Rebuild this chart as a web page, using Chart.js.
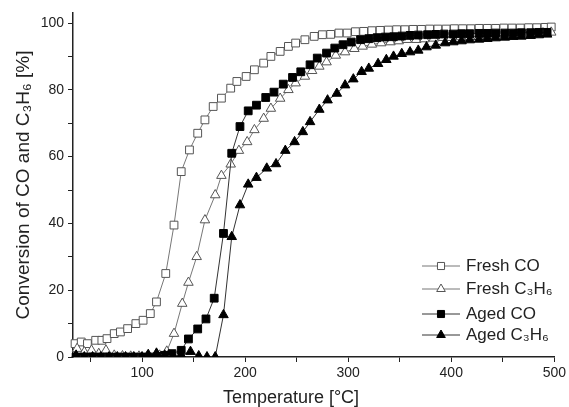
<!DOCTYPE html>
<html>
<head>
<meta charset="utf-8">
<script src="https://cdn.jsdelivr.net/npm/chart.js@4"></script>
<style>body{margin:0;background:#fff}</style>
</head>
<body>
<canvas id="chart" width="569" height="407"></canvas>
<script>
// temperatures [°C] and conversions [%]
const freshCoT = [35, 41, 47, 55, 61, 66, 73, 79, 86, 94, 101, 108, 114, 123, 131, 138, 146, 154, 161, 169, 177, 186, 192, 201, 209, 218, 225, 234, 242, 249, 258, 267, 275, 283, 291, 299, 307, 315, 323, 331, 339, 347, 355, 363, 371, 379, 387, 395, 403, 411, 419, 427, 435, 443, 451, 459, 467, 475, 483, 491, 497];
const freshCoV = [4, 4.5, 4, 5, 5, 5.5, 7, 7.5, 8.5, 10, 11, 13, 16.5, 25, 39.5, 55.5, 62, 67, 71, 75, 77.5, 80.5, 82.5, 84, 86, 88, 90, 91.5, 93, 94, 95, 96, 96.5, 96.6, 97, 97, 97.4, 97.5, 97.7, 97.8, 97.9, 98, 98, 98.1, 98.1, 98.2, 98.2, 98.2, 98.3, 98.3, 98.3, 98.4, 98.4, 98.4, 98.5, 98.5, 98.5, 98.6, 98.6, 98.7, 98.8];

const freshC3h6T = [37, 44, 51, 58, 65, 73, 81, 89, 97, 105, 113, 117, 124, 131, 139, 145, 153, 161, 171, 177, 186, 194, 202, 209, 218, 225, 234, 242, 249, 258, 265, 272, 279, 288, 297, 306, 314, 323, 332, 341, 349, 357, 366, 374, 383, 392, 400, 409, 418, 427, 436, 444, 453, 462, 471, 480, 489, 497];
const freshC3h6V = [2.5, 1.5, 2, 1, 2, 0.5, 0.3, 0.2, 0.2, 0.2, 0.3, 0.5, 1.7, 7, 16, 22.3, 30, 41, 48.5, 54.3, 57.7, 61.8, 64.4, 68, 71.4, 74.4, 77.4, 80, 82, 84, 85.7, 87, 88.3, 90.3, 91.3, 92.3, 93, 93.6, 94, 94.3, 94.6, 95, 95, 95.2, 95.4, 95.6, 95.6, 95.8, 95.9, 96, 96.1, 96.2, 96.3, 96.5, 96.6, 96.8, 97, 97.2];

const agedCoT = [36, 44, 52, 60, 68, 76, 84, 92, 100, 108, 116, 122, 129, 138, 145, 154, 162, 170, 179, 187, 195, 203, 211, 220, 228, 237, 246, 254, 263, 270, 279, 287, 295, 303, 312, 320, 328, 336, 344, 352, 360, 368, 377, 385, 393, 402, 410, 418, 427, 435, 443, 452, 460, 468, 477, 485, 493];
const agedCoV = [0, 0, 0, 0, 0, 0, 0, 0, 0, 0, 0.2, 0.5, 1, 2, 5.4, 8.4, 11.4, 17.6, 37, 61, 69, 73.7, 75.4, 77.7, 79.3, 81.7, 83.7, 85.4, 87.5, 89.5, 91, 92.5, 93.5, 94.3, 95, 95.3, 95.6, 95.8, 95.9, 96.1, 96.3, 96.4, 96.5, 96.6, 96.7, 96.7, 96.8, 96.8, 96.9, 96.9, 97, 97, 97, 97.1, 97.1, 97.2, 97.2];

const agedC3h6T = [36, 44, 52, 60, 68, 76, 84, 92, 100, 106, 114, 122, 130, 138, 147, 155, 163, 171, 179, 187, 195, 203, 211, 221, 230, 239, 248, 256, 263, 272, 280, 289, 297, 305, 313, 320, 329, 337, 344, 352, 360, 368, 376, 385, 394, 402, 410, 418, 427, 435, 443, 452, 460, 468, 477, 485, 493];
const agedC3h6V = [0.5, 0, 0, 0, 0, 0, 0, 0, 0, 0.7, 1.1, 0.5, 0.3, 0.5, 1.6, 0.3, 0, 0, 12.6, 36, 45.5, 51.7, 53.7, 56.5, 57.8, 61.8, 64.4, 67.4, 70.4, 74.1, 76.9, 78.9, 81.4, 83.2, 85.4, 86.4, 87.8, 89, 90, 90.8, 91.3, 91.8, 92.8, 93.3, 94, 94.3, 94.6, 94.9, 95.1, 95.3, 95.5, 95.7, 95.9, 96, 96.2, 96.4, 96.6];

const seriesNames = ['Fresh CO', 'Fresh C\u2083H\u2086', 'Aged CO', 'Aged C\u2083H\u2086'];
const xLabels = [100, 200, 300, 400, 500];
const yLabels = [0, 20, 40, 60, 80, 100];
const xTitle = 'Temperature [°C]';
const yTitle = 'Conversion of CO and C\u2083H\u2086 [%]';

const FONT = '"Liberation Sans", Arial, sans-serif';

function pts(t, v) {
  return t.map((x, i) => ({ x: x, y: v[i] }));
}

function series(label, t, v, style, filled, order) {
  return {
    label: label,
    data: pts(t, v),
    showLine: true,
    tension: 0,
    borderColor: filled ? '#333' : '#777',
    borderWidth: 1,
    pointStyle: style,
    pointRadius: 5.5,
    pointBorderWidth: 1,
    pointBackgroundColor: filled ? '#000' : '#fff',
    pointBorderColor: filled ? '#000' : '#555',
    clip: { left: 10, top: 10, right: 10, bottom: 0 },
    order: order
  };
}

// minor ticks every 10 / 50, labels only on the majors
function minorTicks(from, to, step) {
  const out = [];
  for (let v = from; v <= to; v += step) out.push({ value: v });
  return out;
}

// legend inside the plot (line + marker) and the off-centre x title
const insideLegend = {
  id: 'insideLegend',
  afterDraw(chart) {
    const ctx = chart.ctx;
    const rows = [266, 289, 314, 335];
    chart.data.datasets.forEach((ds, i) => {
      const y = rows[i];
      ctx.save();
      ctx.strokeStyle = ds.borderColor;
      ctx.lineWidth = 1;
      ctx.beginPath();
      ctx.moveTo(422, y);
      ctx.lineTo(460, y);
      ctx.stroke();
      ctx.fillStyle = ds.pointBackgroundColor;
      ctx.strokeStyle = ds.pointBorderColor;
      Chart.helpers.drawPoint(ctx, { pointStyle: ds.pointStyle, rotation: 0, radius: 5, borderWidth: 1 }, 441, y);
      ctx.fillStyle = '#222';
      ctx.font = '17px ' + FONT;
      ctx.textBaseline = 'middle';
      ctx.fillText(ds.label, 466, y);
      ctx.restore();
    });
    ctx.save();
    ctx.fillStyle = '#222';
    ctx.font = '18px ' + FONT;
    ctx.textAlign = 'center';
    ctx.textBaseline = 'middle';
    ctx.fillText(xTitle, 291, 398);
    ctx.restore();
  }
};

new Chart(document.getElementById('chart'), {
  type: 'scatter',
  data: {
    datasets: [
      series(seriesNames[0], freshCoT, freshCoV, 'rect', false, 4),
      series(seriesNames[1], freshC3h6T, freshC3h6V, 'triangle', false, 3),
      series(seriesNames[2], agedCoT, agedCoV, 'rect', true, 2),
      series(seriesNames[3], agedC3h6T, agedC3h6V, 'triangle', true, 1)
    ]
  },
  options: {
    responsive: false,
    animation: false,
    layout: { padding: { top: 13, right: 12, left: 0, bottom: 0 } },
    plugins: { legend: { display: false }, tooltip: { enabled: false } },
    scales: {
      x: {
        type: 'linear',
        min: 33,
        max: 500,
        border: { display: true, color: '#222', width: 1.5 },
        grid: { drawOnChartArea: false, drawTicks: true, tickLength: 5, color: '#222' },
        afterBuildTicks: s => { s.ticks = minorTicks(50, 500, 50); },
        ticks: {
          autoSkip: false,
          maxRotation: 0,
          padding: 3,
          color: '#222',
          font: { family: FONT, size: 14 },
          callback: v => xLabels.includes(v) ? String(v) : ''
        },
        afterFit: s => { s.height = 50; }
      },
      y: {
        min: 0,
        max: 103,
        border: { display: true, color: '#222', width: 1.5 },
        grid: { drawOnChartArea: false, drawTicks: true, tickLength: 5, color: '#222' },
        afterBuildTicks: s => { s.ticks = minorTicks(0, 100, 10); },
        ticks: {
          autoSkip: false,
          padding: 4,
          color: '#222',
          font: { family: FONT, size: 14 },
          callback: v => yLabels.includes(v) ? String(v) : ''
        },
        title: {
          display: true,
          text: yTitle,
          color: '#222',
          font: { family: FONT, size: 19 },
          padding: { top: 12, bottom: 0 }
        },
        afterFit: s => { s.width = 73; }
      }
    }
  },
  plugins: [insideLegend]
});
</script>
</body>
</html>
